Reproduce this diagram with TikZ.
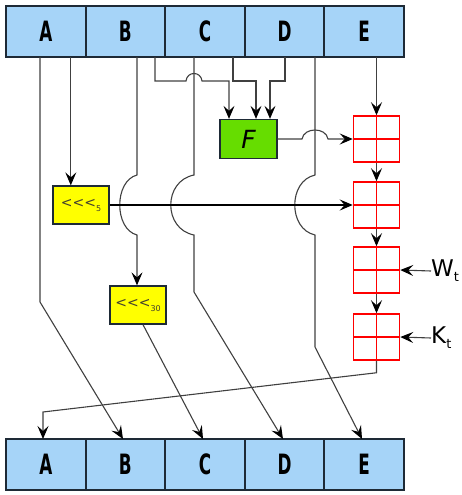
\documentclass[tikz,border=0pt]{standalone}
\usepackage{fontspec}
\setmainfont{DejaVu Sans}
\usetikzlibrary{arrows.meta,positioning}

\definecolor{regblue}{HTML}{A6D4F8}
\definecolor{fgreen}{HTML}{66DD00}
\definecolor{rotyellow}{HTML}{FFFF00}
\definecolor{edge}{HTML}{1E2A36}

\newcommand\regtxt[1]{\scalebox{0.6}[1]{\bfseries #1}}
\newcommand\rottxt[1]{{\fontsize{14}{14}\selectfont{<}{<}{<}}\raisebox{-4pt}{\fontsize{8}{8}\selectfont #1}}
\newcommand\subt{\raisebox{-5pt}{\fontsize{13}{13}\selectfont t}}

\tikzset{
  reg/.style={draw=edge, line width=2pt, fill=regblue, minimum width=79.6pt,
    minimum height=51pt, inner sep=0pt, outer sep=0pt, font=\fontsize{28}{28}\selectfont},
  func/.style={draw=edge, line width=1.3pt, fill=fgreen, minimum width=57pt,
    minimum height=39pt, inner sep=0pt, font=\fontsize{25}{25}\selectfont\itshape},
  rot/.style={draw=edge, line width=1.3pt, fill=rotyellow, minimum width=56pt,
    minimum height=38pt, inner sep=0pt, text=black!70!olive},
  adder/.style={draw=red, line width=1.5pt, minimum width=46pt, minimum height=46pt,
    inner sep=0pt, path picture={\draw[red, line width=1.5pt]
      (path picture bounding box.north) -- (path picture bounding box.south)
      (path picture bounding box.west) -- (path picture bounding box.east);}},
  wire/.style={draw=black!75, line width=1.1pt,
    -{Stealth[length=13pt, width=11pt, inset=5pt, black]}},
  lbl/.style={inner sep=0pt, font=\fontsize{23}{23}\selectfont}
}

\begin{document}
\begin{tikzpicture}[x=1pt,y=-1pt]
  \useasboundingbox (0,0) rectangle (461,495);

  % registros de entrada
  \node[reg] (tA) at (45.8,31.5) {\regtxt{A}};
  \node[reg, right=0pt of tA] (tB) {\regtxt{B}};
  \node[reg, right=0pt of tB] (tC) {\regtxt{C}};
  \node[reg, right=0pt of tC] (tD) {\regtxt{D}};
  \node[reg, right=0pt of tD] (tE) {\regtxt{E}};

  % registros de salida
  \node[reg] (bA) at (45.8,464.5) {\regtxt{A}};
  \node[reg, right=0pt of bA] (bB) {\regtxt{B}};
  \node[reg, right=0pt of bB] (bC) {\regtxt{C}};
  \node[reg, right=0pt of bC] (bD) {\regtxt{D}};
  \node[reg, right=0pt of bD] (bE) {\regtxt{E}};

  % bloques
  \node[func] (F) at (248.5,139) {F};
  \node[rot] (rot5) at (81,205) {\rottxt{5}};
  \node[rot] (rot30) at (138,305) {\rottxt{30}};
  \node[adder] (add1) at (376.5,139) {};
  \node[adder] (add2) at (376.5,205) {};
  \node[adder] (add3) at (376.5,270) {};
  \node[adder] (add4) at (376.5,337) {};
  \node[lbl, anchor=west] (wt) at (431,271) {W\subt};
  \node[lbl, anchor=west] (kt) at (431,338) {K\subt};

  % entradas de F
  \draw[wire] ([xshift=29.6pt]tB.south) coordinate (b2) -- (b2 |- 0,81) -- (186,81)
    .. controls (187,71) and (201,71) .. (202,81) -- (229,81) -- ([xshift=-19.5pt]F.north);
  \draw[wire] ([xshift=28pt]tC.south) coordinate (c2) -- (c2 |- 0,81) -- (256,81)
    -- ([xshift=7.5pt]F.north);
  \draw[wire] ([xshift=0.4pt]tD.south) coordinate (d1) -- (d1 |- 0,81) -- (270,81)
    -- ([xshift=21.5pt]F.north);

  % A
  \draw[wire] ([xshift=-5.8pt]tA.south) -- ++(0,245) -- ([xshift=-2.4pt]bB.north);
  \draw[wire] ([xshift=25pt]tA.south) coordinate (a2) -- (a2 |- rot5.north);

  % B, C, D saltando la salida de rot5
  \draw[wire] ([xshift=11.6pt]tB.south) coordinate (b1) -- (b1 |- 0,175)
    .. controls +(-23,6) and +(-23,-6) .. (b1 |- 0,235) -- (b1 |- rot30.north);
  \draw[wire] ([xshift=-11pt]tC.south) coordinate (c1) -- (c1 |- 0,175)
    .. controls +(-31,6) and +(-31,-6) .. (c1 |- 0,235) -- (c1 |- 0,292)
    -- ([xshift=-1.6pt]bD.north);
  \draw[wire] ([xshift=30.4pt]tD.south) coordinate (d2) -- (d2 |- 0,175)
    .. controls +(-27,6) and +(-27,-6) .. (d2 |- 0,235) -- (d2 |- 0,347)
    -- ([xshift=-2.2pt]bE.north);
  \draw[wire] ([xshift=5pt]rot30.south) -- ([xshift=-2pt]bC.north);

  % sumas
  \draw[wire] (tE.south -| add1.north) -- (add1.north);
  \draw[wire] (F.east) -- (302,139) .. controls (304,127) and (326,127) .. (328,139)
    -- (add1.west);
  \draw[wire, draw=black, line width=1.3pt] (rot5.east) -- (add2.west);
  \draw[wire] (add1.south) -- (add2.north);
  \draw[wire] (add2.south) -- (add3.north);
  \draw[wire] (add3.south) -- (add4.north);
  \draw[wire] (wt.west) -- (add3.east);
  \draw[wire] (kt.west) -- (add4.east);
  \draw[wire] (add4.south) -- ++(0,12) -- (43,412) -- ([xshift=-2.8pt]bA.north);
\end{tikzpicture}
\end{document}
